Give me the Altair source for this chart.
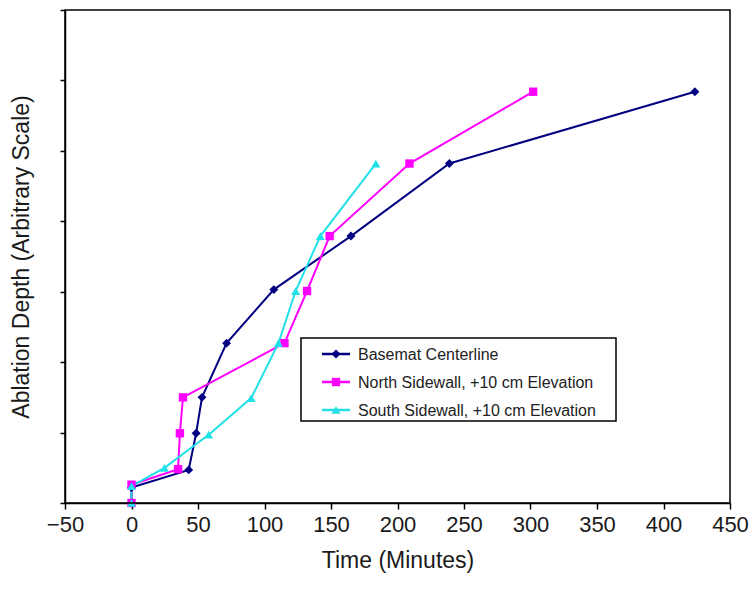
import altair as alt
import pandas as pd

series_names = ["Basemat Centerline", "North Sidewall, +10 cm Elevation", "South Sidewall, +10 cm Elevation"]
basemat_time = [0, 0, 43, 48.6, 53, 71.5, 107, 165, 239, 423.6]
basemat_depth = [0, 0.22, 0.47, 0.99, 1.50, 2.27, 3.03, 3.79, 4.82, 5.84]
north_time = [0, 0, 35, 36.4, 38.7, 115, 132, 149, 209, 302]
north_depth = [0, 0.26, 0.48, 0.99, 1.50, 2.27, 3.01, 3.79, 4.82, 5.84]
south_time = [0, 0, 24.8, 58, 90, 110.5, 123.4, 142, 183.7]
south_depth = [0, 0.24, 0.50, 0.97, 1.49, 2.27, 3.01, 3.79, 4.82]
x_ticks = list(range(-50, 451, 50))
y_ticks = list(range(0, 8))
x_range = [-50, 450]
y_range = [0, 7]

colors = ["#000080", "#FF00FF", "#20E0E8"]
marker_shapes = ["diamond", "square", "triangle-up"]
marker_sizes = [80, 70, 80]

rows = []
for name, ts, ds in [(series_names[0], basemat_time, basemat_depth),
                     (series_names[1], north_time, north_depth),
                     (series_names[2], south_time, south_depth)]:
    for i, (t, d) in enumerate(zip(ts, ds)):
        rows.append({"series": name, "time": t, "depth": d, "idx": i})
df = pd.DataFrame(rows)
legend_df = pd.DataFrame({"series": series_names})

FONT = "Liberation Sans"
PLOT_W, PLOT_H = 665, 493

x_scale = alt.Scale(domain=x_range, nice=False, zero=False)
y_scale = alt.Scale(domain=y_range, nice=False)

x_axis = alt.Axis(values=x_ticks, title="Time (Minutes)", grid=False,
                  tickSize=6, labelFontSize=22, titleFontSize=23,
                  labelFont=FONT, titleFont=FONT, labelColor="#1a1a1a",
                  titleColor="#1a1a1a", titleFontWeight="normal",
                  labelPadding=5, titlePadding=14,
                  domainColor="black", tickColor="black",
                  domainWidth=1.5, tickWidth=1.5, labelFlush=False)
y_axis = alt.Axis(values=y_ticks, labels=False,
                  title="Ablation Depth (Arbitrary Scale)",
                  grid=False, tickSize=5, titleFontSize=23, titleFont=FONT,
                  titleColor="#1a1a1a", titleFontWeight="normal", titlePadding=26,
                  domainColor="black", tickColor="black",
                  domainWidth=1.5, tickWidth=1.5)

x_main = alt.X("time:Q", scale=x_scale, axis=x_axis)
y_main = alt.Y("depth:Q", scale=y_scale, axis=y_axis)

lines = alt.Chart(df).mark_line(strokeWidth=2).encode(
    x=x_main, y=y_main,
    color=alt.Color("series:N", scale=alt.Scale(domain=series_names, range=colors), legend=None),
    detail="series:N",
    order="idx:Q",
)

point_layers = []
for name, shp, col, sz in zip(series_names, marker_shapes, colors, marker_sizes):
    point_layers.append(
        alt.Chart(df).transform_filter(alt.datum.series == name)
        .mark_point(filled=True, size=sz, opacity=1, shape=shp, color=col)
        .encode(x=x_main, y=y_main)
    )

# Plot frame (top and right border of the plot area)
frame = alt.Chart(legend_df.head(1)).mark_rect(
    fill="white", fillOpacity=0, stroke="black", strokeWidth=1.5).encode(
    x=alt.value(0), x2=alt.value(PLOT_W), y=alt.value(0), y2=alt.value(PLOT_H))

# Legend box (layout in plot pixels)
LEG_X0, LEG_X1, LEG_Y0, LEG_Y1 = 236, 551, 328, 411
ROW0, ROW_H = 344, 28
SYM_X0, SYM_X1, TXT_X = 257, 285, 293

legend_layers = [
    alt.Chart(legend_df.head(1)).mark_rect(fill="white", stroke="black", strokeWidth=1.5).encode(
        x=alt.value(LEG_X0), x2=alt.value(LEG_X1), y=alt.value(LEG_Y0), y2=alt.value(LEG_Y1))
]
for i, (name, shp, col, sz) in enumerate(zip(series_names, marker_shapes, colors, marker_sizes)):
    row = alt.Chart(legend_df).transform_filter(alt.datum.series == name)
    ry = ROW0 + i * ROW_H
    legend_layers.append(row.mark_rule(color=col, strokeWidth=2.5).encode(
        x=alt.value(SYM_X0), x2=alt.value(SYM_X1), y=alt.value(ry)))
    legend_layers.append(row.mark_point(filled=True, shape=shp, color=col, size=sz, opacity=1).encode(
        x=alt.value((SYM_X0 + SYM_X1) / 2), y=alt.value(ry)))
    legend_layers.append(row.mark_text(align="left", baseline="middle", font=FONT, fontSize=16,
                                       color="#222").encode(
        x=alt.value(TXT_X), y=alt.value(ry + 1), text="series:N"))

chart = alt.layer(lines, *point_layers, frame, *legend_layers).properties(
    width=PLOT_W, height=PLOT_H,
    background="white",
    autosize=alt.AutoSizeParams(type="none"),
    padding={"left": 65, "top": 10, "right": 22, "bottom": 88},
).configure_view(stroke=None)

chart.save("out.html", embed_options={"renderer": "svg", "actions": False})
